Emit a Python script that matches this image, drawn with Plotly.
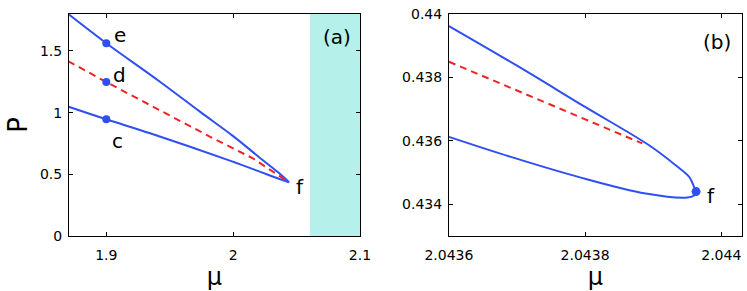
import plotly.graph_objects as go
from plotly.subplots import make_subplots

# ---------- data: panel (a) ----------
upper_a_mu = [1.87, 1.90, 1.9423, 1.9738, 2.0, 2.02, 2.035, 2.0436, 2.04397]
upper_a_P = [1.80, 1.563, 1.251, 1.008, 0.81, 0.643, 0.52, 0.4396, 0.4344]
red_a_mu = [1.87, 1.90, 1.9842, 2.0155, 2.0439]
red_a_P = [1.417, 1.248, 0.792, 0.630, 0.436]
lower_a_mu = [1.87, 1.90, 1.9345, 1.9974, 2.0366, 2.04397]
lower_a_P = [1.049, 0.946, 0.833, 0.611, 0.462, 0.4344]
pts_a_mu = [1.9, 1.9, 1.9]
pts_a_P = [1.563, 1.249, 0.946]
pts_a_lab = ["e", "d", "c"]
f_a = (2.04397, 0.4344)
shade_a = (2.0605, 2.1)

# ---------- data: panel (b) ----------
upper_b_mu = [2.0436, 2.0437, 2.0438, 2.043894, 2.043933, 2.043953, 2.04396, 2.043963]
upper_b_P = [0.43962, 0.43837, 0.43707, 0.43586, 0.43523, 0.43486, 0.43455, 0.43440]
red_b_mu = [2.0436, 2.043741, 2.043884]
red_b_P = [0.438493, 0.43722, 0.435918]
lower_b_mu = [2.0436, 2.043691, 2.043790, 2.043889, 2.043950, 2.043960, 2.043963]
lower_b_P = [0.436126, 0.435494, 0.434863, 0.434338, 0.434212, 0.43428, 0.43440]
f_b = (2.043963, 0.43440)

# ---------- ticks ----------
xa_ticks = [1.9, 2.0, 2.1]
xa_text = ["1.9", "2", "2.1"]
ya_ticks = [0, 0.5, 1, 1.5]
ya_text = ["0", "0.5", "1", "1.5"]
xb_ticks = [2.0436, 2.0438, 2.044]
xb_text = ["2.0436", "2.0438", "2.044"]
yb_ticks = [0.434, 0.436, 0.438, 0.44]
yb_text = ["0.434", "0.436", "0.438", "0.44"]

BLUE = "#2f4ff2"
RED = "#f02424"
CYAN = "#b6f0ea"
FONT = "DejaVu Sans"

fig = make_subplots(rows=1, cols=2)

# panel (a)
fig.add_trace(go.Scatter(x=upper_a_mu, y=upper_a_P, mode="lines", line_shape="spline",
                         line=dict(color=BLUE, width=2), showlegend=False), 1, 1)
fig.add_trace(go.Scatter(x=lower_a_mu, y=lower_a_P, mode="lines", line_shape="spline",
                         line=dict(color=BLUE, width=2), showlegend=False), 1, 1)
fig.add_trace(go.Scatter(x=red_a_mu, y=red_a_P, mode="lines",
                         line=dict(color=RED, width=2, dash="7px,5px"), showlegend=False), 1, 1)
fig.add_trace(go.Scatter(x=pts_a_mu, y=pts_a_P, mode="markers",
                         marker=dict(color=BLUE, size=8), showlegend=False), 1, 1)

# panel (b)
fig.add_trace(go.Scatter(x=upper_b_mu, y=upper_b_P, mode="lines", line_shape="spline",
                         line=dict(color=BLUE, width=2), showlegend=False), 1, 2)
fig.add_trace(go.Scatter(x=lower_b_mu, y=lower_b_P, mode="lines", line_shape="spline",
                         line=dict(color=BLUE, width=2), showlegend=False), 1, 2)
fig.add_trace(go.Scatter(x=red_b_mu, y=red_b_P, mode="lines",
                         line=dict(color=RED, width=2, dash="7px,5px"), showlegend=False), 1, 2)
fig.add_trace(go.Scatter(x=[f_b[0]], y=[f_b[1]], mode="markers",
                         marker=dict(color=BLUE, size=9), showlegend=False), 1, 2)

# shaded region in (a)
fig.add_shape(type="rect", xref="x", yref="y domain", x0=shade_a[0], x1=shade_a[1],
              y0=0, y1=1, fillcolor=CYAN, line=dict(width=0), layer="below")

# labels
lab_font = dict(family=FONT, size=20, color="black")
offsets = {"e": (14, 8), "d": (13, 7), "c": (11, -22)}
for mu, p, lab in zip(pts_a_mu, pts_a_P, pts_a_lab):
    dx, dy = offsets[lab]
    fig.add_annotation(x=mu, y=p, xref="x", yref="y", text=lab, showarrow=False,
                       xshift=dx, yshift=dy, font=lab_font)
fig.add_annotation(x=f_a[0], y=f_a[1], xref="x", yref="y", text="f", showarrow=False,
                   xshift=11, yshift=-5, font=lab_font)
fig.add_annotation(x=f_b[0], y=f_b[1], xref="x2", yref="y2", text="f", showarrow=False,
                   xshift=15, yshift=-4, font=lab_font)
fig.add_annotation(x=0.92, y=0.898, xref="x domain", yref="y domain", text="(a)",
                   xanchor="center", yanchor="middle", showarrow=False, font=lab_font)
fig.add_annotation(x=0.9146, y=0.8716, xref="x2 domain", yref="y2 domain", text="(b)",
                   xanchor="center", yanchor="middle", showarrow=False, font=lab_font)

axis_common = dict(showline=True, linecolor="black", linewidth=1, mirror="ticks",
                   ticks="inside", ticklen=4, tickcolor="black", showgrid=False,
                   zeroline=False, tickfont=dict(family=FONT, size=14, color="black"),
                   automargin=False)

fig.update_xaxes(axis_common)
fig.update_yaxes(axis_common)

fig.update_xaxes(row=1, col=1, domain=[0.0924, 0.4819], range=[1.8706, 2.1],
                 tickvals=xa_ticks, ticktext=xa_text, ticklabelstandoff=6,
                 title=dict(text="μ", font=dict(family=FONT, size=24, color="black"), standoff=6))
fig.update_yaxes(row=1, col=1, domain=[0.189, 0.952], range=[0, 1.8],
                 tickvals=ya_ticks, ticktext=ya_text, ticklabelstandoff=3,
                 title=dict(text="P", font=dict(family=FONT, size=26, color="black"), standoff=4))
fig.update_xaxes(row=1, col=2, domain=[0.601, 0.9929], range=[2.0436, 2.04403],
                 tickvals=xb_ticks, ticktext=xb_text, ticklabelstandoff=6,
                 title=dict(text="μ", font=dict(family=FONT, size=24, color="black"), standoff=6))
fig.update_yaxes(row=1, col=2, domain=[0.189, 0.952], range=[0.433, 0.44],
                 tickvals=yb_ticks, ticktext=yb_text, ticklabelstandoff=3)

fig.update_layout(width=747, height=291, margin=dict(l=0, r=0, t=0, b=0),
                  paper_bgcolor="white", plot_bgcolor="white", showlegend=False)

fig.write_html("out.html", config={"displayModeBar": False},
               post_script="document.body.style.margin='0';document.body.style.overflow='hidden';")
